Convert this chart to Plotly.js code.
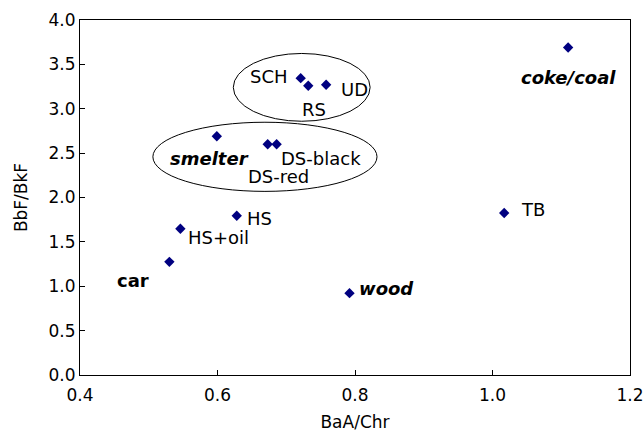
<!DOCTYPE html>
<html>
<head>
<meta charset="utf-8">
<script src="https://cdn.plot.ly/plotly-3.0.1.min.js"></script>
<style>html,body{margin:0;padding:0;background:#fff;}#chart{width:644px;height:436px;}</style>
</head>
<body>
<div id="chart"></div>
<script>
// Data
const names = ["coke/coal", "TB", "SCH", "RS", "UD", "smelter", "DS-red", "DS-black", "HS", "HS+oil", "car", "wood"];
const baaChr = [1.110, 1.017, 0.721, 0.732, 0.758, 0.599, 0.673, 0.686, 0.628, 0.546, 0.530, 0.792];
const bbfBkf = [3.69, 1.825, 3.345, 3.26, 3.27, 2.69, 2.60, 2.60, 1.795, 1.648, 1.275, 0.922];
const xTicks = [0.4, 0.6, 0.8, 1.0, 1.2];
const yTicks = [0.0, 0.5, 1.0, 1.5, 2.0, 2.5, 3.0, 3.5, 4.0];

// label styling / placement (pixel offsets from each point)
const labelStyle = {"coke/coal": "bi", "smelter": "bi", "wood": "bi", "car": "b"};
const labelShift = {
  "coke/coal": [0, -30], "TB": [29, 4], "SCH": [-32, 2], "RS": [6, -24], "UD": [28, -5],
  "smelter": [-7, -22], "DS-red": [11, -32], "DS-black": [44, -14], "HS": [23, -3],
  "HS+oil": [38, -9], "car": [-36, -19], "wood": [37, 5]
};

const font = "DejaVu Sans, Verdana, sans-serif";

const annotations = names.map((n, i) => {
  let t = n;
  if (labelStyle[n] === "bi") t = "<b><i>" + n + "</i></b>";
  else if (labelStyle[n] === "b") t = "<b>" + n + "</b>";
  return {
    x: baaChr[i], y: bbfBkf[i], xref: "x", yref: "y", text: t, showarrow: false,
    xshift: labelShift[n][0], yshift: labelShift[n][1],
    xanchor: "center", yanchor: "middle",
    font: {family: font, size: 18, color: "#000"}
  };
});

const trace = {
  x: baaChr, y: bbfBkf, mode: "markers", type: "scatter",
  marker: {symbol: "diamond", size: 8, color: "#000080"},
  hoverinfo: "skip", showlegend: false
};

const layout = {
  width: 644, height: 436,
  margin: {l: 80, r: 14, t: 20, b: 61},
  paper_bgcolor: "#fff", plot_bgcolor: "#fff",
  showlegend: false,
  font: {family: font, size: 17, color: "#000"},
  xaxis: {
    range: [0.4, 1.2], tickvals: xTicks, ticktext: xTicks.map(v => v.toFixed(1)),
    ticks: "inside", ticklen: 5, tickcolor: "#000", ticklabelstandoff: 5,
    showgrid: false, zeroline: false, showline: true, linecolor: "#000", linewidth: 1, mirror: true,
    tickfont: {family: font, size: 17}, title: {text: "BaA/Chr", font: {family: font, size: 17}, standoff: 11}
  },
  yaxis: {
    range: [0, 4], tickvals: yTicks, ticktext: yTicks.map(v => v.toFixed(1)),
    ticks: "inside", ticklen: 5, tickcolor: "#000",
    showgrid: false, zeroline: false, showline: true, linecolor: "#000", linewidth: 1, mirror: true,
    tickfont: {family: font, size: 17}, title: {text: "BbF/BkF", font: {family: font, size: 17}, standoff: 16}
  },
  annotations: annotations,
  shapes: [
    {type: "circle", xref: "x", yref: "y", x0: 0.623, x1: 0.822, y0: 2.859, y1: 3.623, line: {color: "#000", width: 1}},
    {type: "circle", xref: "x", yref: "y", x0: 0.506, x1: 0.832, y0: 2.069, y1: 2.848, line: {color: "#000", width: 1}}
  ]
};

Plotly.newPlot("chart", [trace], layout, {staticPlot: true, displayModeBar: false});
</script>
</body>
</html>
